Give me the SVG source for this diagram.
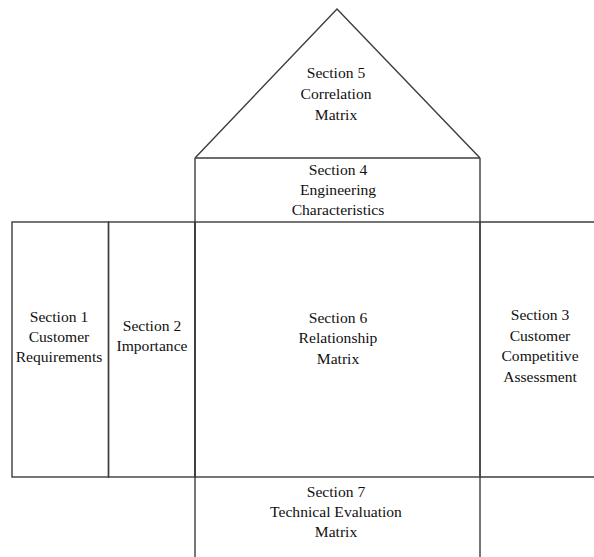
<svg xmlns="http://www.w3.org/2000/svg" width="594" height="557" viewBox="0 0 594 557">
<style>
.ln{fill:none;stroke:#3c3c3c;stroke-width:1.4}
.t{font-family:"Liberation Serif","Times New Roman",serif;font-size:15.6px;fill:#111;text-anchor:middle}
</style>
<rect width="594" height="557" fill="#fff"/>
<g id="section5">
<polyline class="ln" points="195,158 337,9 480,158"/>
<text class="t" x="336" y="78">Section 5</text>
<text class="t" x="336" y="99">Correlation</text>
<text class="t" x="336" y="120">Matrix</text>
</g>
<g id="section4">
<line class="ln" x1="195" y1="158" x2="480" y2="158"/>
<text class="t" x="338" y="175">Section 4</text>
<text class="t" x="338" y="195">Engineering</text>
<text class="t" x="338" y="215">Characteristics</text>
</g>
<g id="section1">
<rect class="ln" x="12" y="222" width="96.5" height="255"/>
<text class="t" x="59" y="322">Section 1</text>
<text class="t" x="59" y="342">Customer</text>
<text class="t" x="59" y="362">Requirements</text>
</g>
<g id="section2">
<rect class="ln" x="108.5" y="222" width="86.5" height="255"/>
<text class="t" x="152" y="331">Section 2</text>
<text class="t" x="152" y="351">Importance</text>
</g>
<g id="section6">
<rect class="ln" x="195" y="222" width="285" height="255"/>
<text class="t" x="338" y="323">Section 6</text>
<text class="t" x="338" y="343">Relationship</text>
<text class="t" x="338" y="364">Matrix</text>
</g>
<g id="section3">
<line class="ln" x1="480" y1="222" x2="594" y2="222"/>
<line class="ln" x1="480" y1="477" x2="594" y2="477"/>
<text class="t" x="540" y="320">Section 3</text>
<text class="t" x="540" y="341">Customer</text>
<text class="t" x="540" y="361">Competitive</text>
<text class="t" x="540" y="382">Assessment</text>
</g>
<g id="section7">
<line class="ln" x1="195" y1="158" x2="195" y2="557"/>
<line class="ln" x1="480" y1="158" x2="480" y2="557"/>
<text class="t" x="336" y="497">Section 7</text>
<text class="t" x="336" y="517">Technical Evaluation</text>
<text class="t" x="336" y="537">Matrix</text>
</g>
</svg>
